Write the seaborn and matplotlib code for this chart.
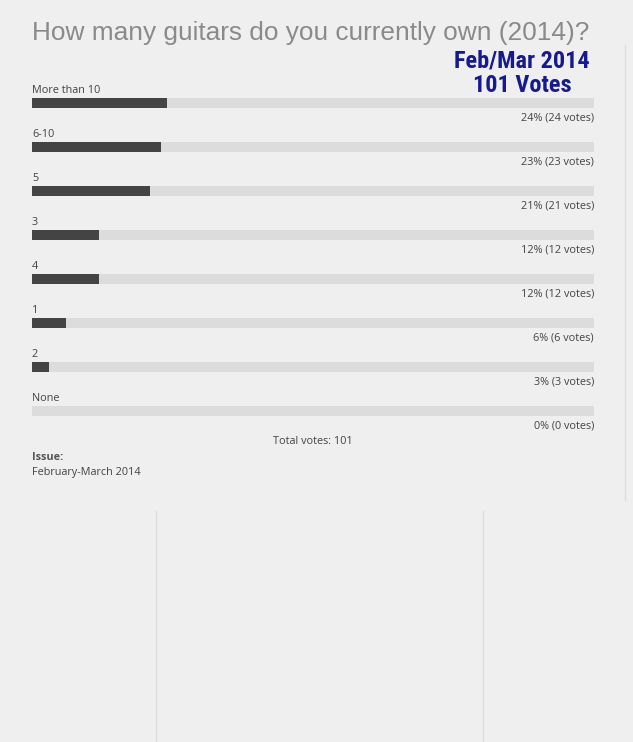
import matplotlib
matplotlib.use("Agg")
import matplotlib.pyplot as plt
import seaborn as sns
import pandas as pd
from matplotlib import font_manager

options = ["More than 10", "6-10", "5", "3", "4", "1", "2", "None"]
percents = [24, 23, 21, 12, 12, 6, 3, 0]
votes = [24, 23, 21, 12, 12, 6, 3, 0]
total_votes = 101
title = "How many guitars do you currently own (2014)?"
stamp_lines = ["Feb/Mar 2014", "101 Votes"]
issue_label = "Issue:"
issue_value = "February-March 2014"

df = pd.DataFrame({"option": options, "percent": percents, "votes": votes})
df["track"] = 100

sns.set_theme(style="white")
plt.rcParams["font.family"] = ["Open Sans", "DejaVu Sans"]

names = {f.name for f in font_manager.fontManager.ttflist}
cond = [n for n in ["Roboto Condensed", "Liberation Sans Narrow", "DejaVu Sans Condensed"] if n in names]
stamp_family = cond[0] if cond else "Roboto"
stamp_size = 17.5 if cond else 15.5

W, H = 633, 742
bg = "#efefef"
fig = plt.figure(figsize=(W / 100, H / 100), dpi=100, facecolor=bg)

left, right = 32 / W, 594 / W
top_px, bot_px = 81, 433
ax = fig.add_axes([left, 1 - bot_px / H, right - left, (bot_px - top_px) / H])
ax.set_facecolor("none")

bar_h = 10 / 44
sns.barplot(data=df, y="option", x="track", order=options, color="#dcdcdc",
            width=bar_h, orient="h", ax=ax, saturation=1, linewidth=0)
sns.barplot(data=df, y="option", x="percent", order=options, color="#444444",
            width=bar_h, orient="h", ax=ax, saturation=1, linewidth=0)
ax.set_xlim(0, 100)
ax.set_ylim(len(options) - 0.5, -0.5)
ax.axis("off")

small = 7.8
txtc = "#444444"
for i, (opt, p, v) in enumerate(zip(options, percents, votes)):
    ax.text(0, i - 0.29, opt, ha="left", va="center", fontsize=small, color=txtc)
    ax.text(100, i + 0.34, f"{p}% ({v} votes)", ha="right", va="center",
            fontsize=small, color=txtc)

fig.text(313 / W, 1 - 441 / H, f"Total votes: {total_votes}", ha="center",
         va="center", fontsize=small, color=txtc)
fig.text(32 / W, 1 - 457 / H, issue_label, ha="left", va="center",
         fontsize=small, color="#555555", fontweight="bold")
fig.text(32 / W, 1 - 473 / H, issue_value, ha="left", va="center",
         fontsize=small, color=txtc)

fig.text(32 / W, 1 - 33 / H, title, ha="left", va="center", fontsize=18.9,
         color="#8a8a8a", family=["Liberation Sans", "DejaVu Sans"])

stamp_c = "#161a90"
for line, ypx in zip(stamp_lines, [61, 86]):
    fig.text(522 / W, 1 - ypx / H, line, ha="center", va="center",
             fontsize=stamp_size, color=stamp_c, fontweight="bold",
             family=[stamp_family, "DejaVu Sans"])

lc = "#dcdcdc"
fig.add_artist(plt.Line2D([156 / W, 156 / W], [0, 1 - 511 / H], color=lc, lw=1))
fig.add_artist(plt.Line2D([483 / W, 483 / W], [0, 1 - 511 / H], color=lc, lw=1))
fig.add_artist(plt.Line2D([625 / W, 625 / W], [1 - 45 / H, 1 - 500 / H], color=lc, lw=1))

fig.savefig("out.png", dpi=100, facecolor=bg)
